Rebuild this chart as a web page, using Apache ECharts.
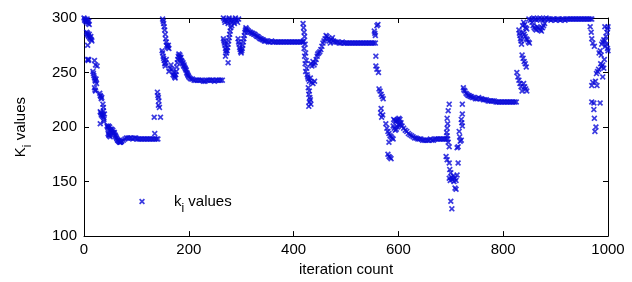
<!DOCTYPE html>
<html>
<head>
<meta charset="utf-8">
<title>k_i values</title>
<script src="https://cdn.jsdelivr.net/npm/echarts@6/dist/echarts.min.js"></script>
<style>
  html, body { margin: 0; padding: 0; background: #fff; }
  #chart { width: 632px; height: 282px; }
</style>
</head>
<body>
<div id="chart"></div>
<script>
// [iteration, k_i], one array per phase of the run
const phase1 = [
  [0,300],[1,298],[2,299],[3,297],[4,298],[5,296],[6,299],[7,297],[8,295],[9,297],[10,294],
  [5,287],[6,285],[7,286],[8,284],[9,283],[10,285],[11,282],[12,281],[13,283],[14,280],[15,279],
  [7,275],[7,262],[8,261],[9,262],[20,261],[22,257],[25,256],
  [17,251],[18,249],[19,247],[20,245],[21,243],[22,242],[23,244],[24,240],[20,236],[21,234],[22,233],
  [30,231],[31,229],[32,228],[33,226],[34,227],[36,221],[37,218],[37,215],
  [31,214],[32,213],[33,211],[34,212],[35,210],[36,211],[37,209],[38,207],[39,212],[38,205],[31,203],
  [44,201],[45,200],[46,199],[47,201],[48,198],[49,200],[50,197],[51,198],[52,196],[53,198],[54,195],
  [55,197],[56,195],[57,194],[58,195],[46,194],[47,193],[48,192],[49,193],[50,191],
  [59,193],[60,192],[61,191],[62,190],[63,189],[64,188],[65,188],[66,187],[67,187],[68,186],[69,186],[70,186],[71,187],
  [72,187],[75,188],[78,189],[81,190],[84,190],[87,190],[90,190],[93,189],[96,190],[99,190],[102,189],[105,189],
  [108,189],[111,189],[114,189],[117,189],[120,189],[123,189],[126,189],[129,189],[132,189],[135,189],[138,189],[141,189],
  [135,194],[134,209]
];
const phase2 = [
  [140,232],[141,229],[142,227],[143,224],[142,220],[144,218],[146,209],
  [150,299],[151,297],[152,295],[153,292],[154,289],[155,285],[156,281],[157,278],[158,275],[159,274],[160,273],[161,275],[162,272],
  [149,270],[150,268],[151,265],[152,263],[153,261],[154,258],[155,256],[156,259],[157,262],
  [162,251],[164,254],[166,257],[168,253],[170,248],[171,250],[172,247],[173,246],[174,245],[175,248],[176,251],[177,255],
  [178,259],[179,262],[180,265],[181,267],[182,264],[183,266],[184,263],[185,264],[186,261],[187,260],[188,258],[189,259],
  [190,256],[191,257],[192,255],[193,254],[194,253],[195,252],[196,250],[197,249],[198,248],[199,247],[200,246],[202,245],[204,244],
  [207,244],[210,243],[213,243],[216,243],[219,243],[222,243],[225,243],[228,242],[231,242],[234,243],[237,243],[240,243],
  [243,243],[246,243],[249,242],[252,243],[255,243],[258,243],[261,243],[264,243]
];
const phase3 = [
  [266,300],[268,298],[269,296],[271,299],[273,297],[275,295],[277,300],[279,298],[281,296],[283,299],[285,297],[287,295],
  [289,300],[291,298],[293,296],[295,299],
  [266,281],[267,279],[268,277],[269,275],[270,272],[271,270],[272,268],[273,270],[274,273],[275,276],[276,279],[277,282],
  [278,285],[279,288],[280,291],[282,293],[270,265],[275,259],
  [294,281],[295,278],[296,276],[297,273],[298,271],[299,269],[300,268],[301,270],[302,272],[303,275],[304,278],[305,281],
  [306,284],[307,287],[308,289],[309,291],[310,290],
  [312,289],[314,288],[316,287],[318,287],[320,286],[322,286],[324,285],[326,285],[328,284],[330,283],[332,283],[334,282],
  [336,281],[338,281],[340,280],[342,280],[344,279],[346,279],
  [349,279],[352,278],[355,278],[358,279],[361,278],[364,278],[367,278],[370,278],[373,278],[376,278],[379,278],[382,278],
  [385,278],[388,278],[391,278],[394,278],[397,278],[400,278],[403,278],[406,278],[409,278],[412,278],[415,278],[418,278]
];
const phase4 = [
  [418,295],[419,291],[420,287],[421,283],[419,279],[422,276],[420,272],[423,268],[421,265],[424,261],[422,258],[425,254],
  [423,251],[426,248],[427,246],[428,244],[430,242],[432,245],[434,241],[437,240],[440,242],
  [428,236],[430,233],[429,230],[431,227],[432,225],[430,223],[433,221],[429,219],
  [433,258],[435,256],[437,260],[439,257],[441,259],[443,262],[445,265],[446,267],[448,268],[450,269],[452,271],[454,274],
  [456,277],[458,279],[460,281],[462,284],[464,283],[466,281],[468,279],[470,277],[472,280],[474,282],[476,279],[478,278],
  [481,278],[484,278],[487,277],[490,277],[493,278],[496,277],[499,277],[502,277],[505,277],[508,277],[511,277],[514,277],
  [517,277],[520,277],[523,277],[526,277],[529,277],[532,277],[535,277],[538,277],[541,277],[544,277],[547,277],[550,277],
  [553,277],[556,277]
];
const phase5 = [
  [559,293],[561,294],[554,288],[555,286],[556,284],[557,265],[557,256],[559,253],[562,250],[563,235],[565,233],[567,230],
  [569,228],[571,226],[567,217],[566,213],[568,209],[570,211],[576,203],[578,199],[580,196],[582,194],[584,192],[586,191],
  [588,190],[590,189],[582,186],[580,175],[582,173],[584,172],[586,171],
  [591,207],[593,206],[595,205],[597,206],[599,207],[601,208],[603,207],[605,204],[590,201],[592,199],[594,197],[596,198],
  [598,200],[600,202],[602,203],[604,202],[607,201],[610,199],[613,197],[616,196],[619,194],[622,193],[625,192],[628,191],
  [631,190],[634,190],[637,189],[640,189],[643,189],[646,188],[649,188],
  [652,188],[655,188],[658,188],[661,189],[664,188],[667,188],[670,189],[673,189],[676,189],[679,189],[682,189],[685,189],
  [688,189],[691,189],[694,189]
];
const phase6 = [
  [697,221],[695,215],[693,208],[694,203],[693,199],[692,195],[693,192],[695,186],[697,182],[691,173],[693,170],[697,167],
  [698,161],[700,158],[697,153],[699,151],[701,154],[703,152],[705,155],[706,150],[708,153],[710,151],[712,156],[708,144],
  [710,143],[700,132],[702,125],[712,181],[714,182],[714,167],[716,196],[717,191],[718,187],[720,188],[720,207],[721,204],
  [722,201],[722,212],[722,221],[724,236],[725,234],[727,233],[729,231],[731,230],[733,229],[735,229],[737,228],[739,228],
  [741,227],[744,227],[747,226],[750,226],[753,227],[756,226],
  [759,226],[762,225],[765,225],[768,225],[771,224],[774,224],[777,224],[780,224],[783,224],[786,223],[789,223],[792,223],
  [795,223],[798,223],[801,223],[804,223],[807,223],[810,223],[813,223],[816,223],[819,223],[822,223],[825,223]
];
const phase7 = [
  [830,289],[831,286],[832,284],[833,281],[834,279],[835,276],[826,250],[828,246],[830,243],[832,240],[834,237],[836,233],
  [836,266],[838,263],[840,260],[842,258],[844,255],[838,287],[840,285],[842,283],[844,281],[846,280],[848,278],[850,277],
  [839,240],[841,237],[843,235],[845,233],[837,293],[839,296],[841,294],[843,291],[845,290],
  [855,296],[857,293],[859,291],[861,290],[863,289],[865,292],[867,291],[869,290],[871,289],[873,288],[875,291],[877,293],[879,295],
  [849,299],[852,298],[855,299],[858,300],[861,299],[864,298],[867,299],[870,300],[873,299],[876,298],[879,299],[882,300],
  [885,299],[888,299],[891,298],[894,299],[897,299],[900,298],[903,299],[906,299],[909,298],[912,299],[915,299],[918,298],
  [921,299],[924,299],[927,299],[930,299],[933,299],[936,299],[939,299],[942,299],[945,299],[948,299],[951,299],[954,299],
  [957,299],[960,299],[963,299],[966,299],[969,299],
  [966,292],[968,287],[969,281],[971,277],[974,274],[969,238],[971,241],[973,216],[974,208],[975,196],[976,242],[978,249],
  [980,251],[982,253],[969,223],[973,222],[985,222],[983,268],[985,270],[987,266],[986,258],[988,255],[990,257],[992,254],
  [988,276],[990,278],[992,280],[994,279],[996,283],[998,287],[999,290],[1000,292],[995,274],[997,276],[999,272],[1000,270],
  [994,292],[977,200],[979,238],[990,246],[993,262]
];

const xTicks = { min: 0, max: 1000, step: 200 };
const yTicks = { min: 100, max: 300, step: 50 };

const font = 'Liberation Sans, Arial, sans-serif';
const blue = '#0a0ad8';
const xMark = 'path://M0,2L2,0L5,3L8,0L10,2L7,5L10,8L8,10L5,7L2,10L0,8L3,5Z';

const subRich = {
  n: { fontSize: 15, fontFamily: font, color: '#000' },
  s: { fontSize: 12, fontFamily: font, color: '#000', padding: [14, 0, 0, 0] }
};

const chart = echarts.init(document.getElementById('chart'));

const frameX = (pos) => ({
  type: 'value',
  position: pos,
  min: xTicks.min,
  max: xTicks.max,
  interval: xTicks.step,
  axisLine: { show: true, onZero: false, lineStyle: { color: '#000', width: 1 } },
  axisTick: { show: true, inside: true, length: 5, lineStyle: { color: '#000' } },
  axisLabel: { show: pos === 'bottom', color: '#000', fontSize: 15, fontFamily: font, margin: 6, formatter: (v) => String(v) },
  splitLine: { show: false }
});
const frameY = (pos) => ({
  type: 'value',
  position: pos,
  min: yTicks.min,
  max: yTicks.max,
  interval: yTicks.step,
  axisLine: { show: true, onZero: false, lineStyle: { color: '#000', width: 1 } },
  axisTick: { show: true, inside: true, length: 5, lineStyle: { color: '#000' } },
  axisLabel: { show: pos === 'left', color: '#000', fontSize: 15, fontFamily: font, margin: 7, formatter: (v) => String(v) },
  splitLine: { show: false }
});

const xBottom = Object.assign(frameX('bottom'), {
  name: 'iteration count',
  nameLocation: 'middle',
  nameGap: 23,
  nameTextStyle: { color: '#000', fontSize: 15, fontFamily: font }
});
const yLeft = Object.assign(frameY('left'), {
  name: '{n|K}{s|i}{n| values}',
  nameLocation: 'middle',
  nameGap: 50,
  nameTextStyle: { rich: subRich }
});

chart.setOption({
  animation: false,
  backgroundColor: '#fff',
  grid: { left: 84, right: 24, top: 18, bottom: 40 },
  legend: {
    left: 134,
    top: 189,
    itemWidth: 6,
    itemHeight: 6,
    icon: xMark,
    formatter: () => '{n|k}{s|i}{n| values}',
    textStyle: { rich: subRich, padding: [0, 0, 0, 24] },
    data: ['k_i values']
  },
  xAxis: [xBottom, frameX('top')],
  yAxis: [yLeft, frameY('right')],
  series: [{
    name: 'k_i values',
    type: 'scatter',
    symbol: xMark,
    symbolSize: 6,
    itemStyle: { color: blue },
    data: [].concat(phase1, phase2, phase3, phase4, phase5, phase6, phase7)
  }]
});
</script>
</body>
</html>
